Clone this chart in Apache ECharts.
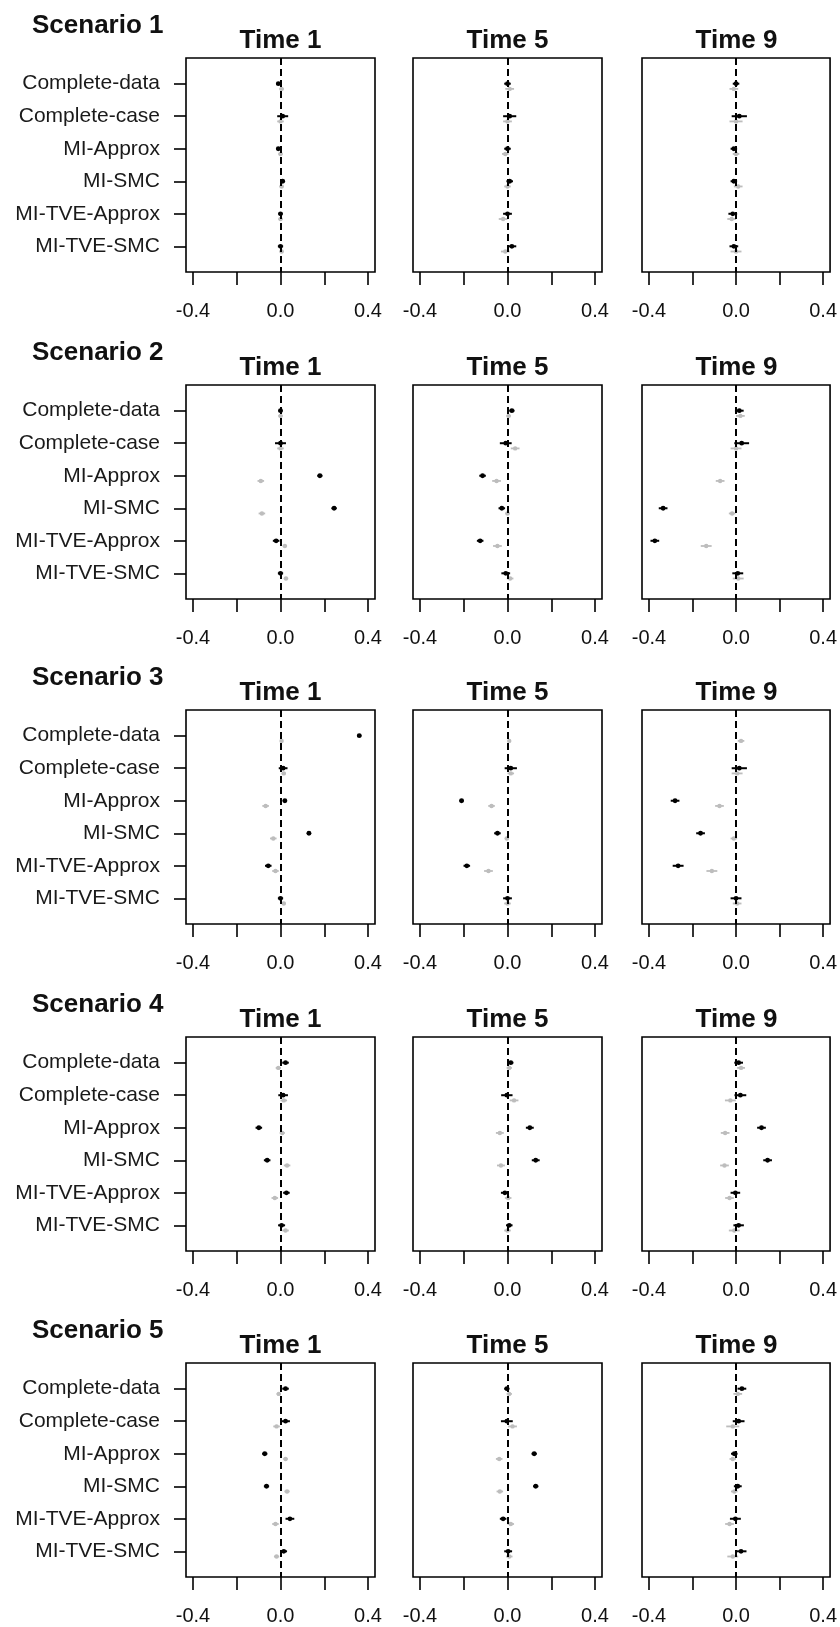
<!DOCTYPE html>
<html><head><meta charset="utf-8">
<script src="https://cdn.jsdelivr.net/npm/echarts@6/dist/echarts.min.js"></script>
<style>html,body{margin:0;padding:0;background:#fff}#chart{width:840px;height:1627px}</style>
</head><body><div id="chart"></div>
<script>
// ---------- data ----------
const methods = ['Complete-data','Complete-case','MI-Approx','MI-SMC','MI-TVE-Approx','MI-TVE-SMC'];
const times = ['Time 1','Time 5','Time 9'];
const scenarios = ['Scenario 1','Scenario 2','Scenario 3','Scenario 4','Scenario 5'];
const xTickValues = [-0.4,-0.2,0,0.2,0.4];
const xLabelValues = [-0.4,0,0.4];
const yTickValues = [1,2,3,4,5,6];

// estimates (rows: Time 1, Time 5, Time 9; columns: methods) and CI half-widths
const s1BlackEst = [[-0.01,0.01,-0.01,0.01,0.0,0.0],[0.0,0.01,0.0,0.01,0.0,0.02],[0.0,0.015,-0.01,-0.01,-0.015,-0.01]];
const s1BlackCI  = [[0.01,0.025,0.01,0.01,0.01,0.012],[0.015,0.03,0.015,0.015,0.02,0.02],[0.015,0.035,0.015,0.015,0.02,0.02]];
const s1GreyEst  = [[0.005,0.0,0.0,0.005,0.0,0.005],[0.01,0.0,-0.01,0.0,-0.02,-0.01],[-0.01,0.0,0.0,0.01,-0.02,0.0]];
const s1GreyCI   = [[0.01,0.015,0.01,0.01,0.01,0.01],[0.02,0.02,0.015,0.015,0.02,0.02],[0.02,0.03,0.015,0.02,0.02,0.025]];

const s2BlackEst = [[0.0,0.0,0.18,0.245,-0.02,0.0],[0.02,-0.008,-0.114,-0.026,-0.125,-0.008],[0.015,0.026,null,-0.335,-0.373,0.008]];
const s2BlackCI  = [[0.01,0.025,0.012,0.012,0.015,0.012],[0.012,0.027,0.015,0.015,0.015,0.02],[0.02,0.034,0.02,0.02,0.02,0.025]];
const s2GreyEst  = [[0.0,0.0,-0.09,-0.085,0.02,0.025],[0.005,0.035,-0.05,0.0,-0.046,0.012],[0.02,0.0,-0.073,-0.018,-0.137,0.01]];
const s2GreyCI   = [[0.01,0.015,0.015,0.015,0.01,0.01],[0.01,0.02,0.02,0.01,0.02,0.015],[0.02,0.025,0.02,0.015,0.025,0.025]];

const s3BlackEst = [[0.36,0.012,0.02,0.13,-0.056,0.0],[null,0.015,-0.21,-0.046,-0.186,0.0],[null,0.015,-0.28,-0.163,-0.266,0.0]];
const s3BlackCI  = [[0.01,0.02,0.01,0.01,0.015,0.012],[0.01,0.028,0.01,0.015,0.015,0.02],[0.01,0.035,0.02,0.02,0.025,0.025]];
const s3GreyEst  = [[0.005,0.015,-0.068,-0.033,-0.023,0.015],[0.008,0.015,-0.073,-0.003,-0.087,0.0],[0.023,0.005,-0.076,-0.01,-0.111,0.005]];
const s3GreyCI   = [[0.005,0.01,0.015,0.015,0.015,0.01],[0.008,0.015,0.015,0.01,0.02,0.015],[0.015,0.025,0.02,0.015,0.025,0.02]];

const s4BlackEst = [[0.023,0.012,-0.099,-0.061,0.027,0.005],[0.015,-0.003,0.102,0.129,-0.012,0.008],[0.012,0.02,0.117,0.145,-0.003,0.012]];
const s4BlackCI  = [[0.015,0.022,0.015,0.015,0.015,0.016],[0.012,0.026,0.018,0.018,0.018,0.015],[0.02,0.027,0.02,0.02,0.022,0.024]];
const s4GreyEst  = [[-0.01,0.015,0.008,0.03,-0.026,0.023],[0.008,0.03,-0.035,-0.03,0.003,0.0],[0.023,-0.026,-0.05,-0.053,-0.03,-0.008]];
const s4GreyCI   = [[0.012,0.015,0.012,0.015,0.015,0.015],[0.012,0.02,0.018,0.018,0.015,0.015],[0.018,0.025,0.02,0.02,0.02,0.025]];

const s5BlackEst = [[0.023,0.023,-0.072,-0.064,0.043,0.015],[-0.003,-0.003,0.122,0.129,-0.02,0.003],[0.027,0.012,-0.008,0.008,-0.003,0.023]];
const s5BlackCI  = [[0.015,0.02,0.012,0.012,0.02,0.015],[0.012,0.027,0.012,0.012,0.015,0.018],[0.02,0.027,0.015,0.018,0.025,0.025]];
const s5GreyEst  = [[-0.008,-0.018,0.023,0.03,-0.023,-0.018],[0.008,0.023,-0.038,-0.035,0.015,0.008],[0.008,-0.015,-0.015,-0.008,-0.03,-0.015]];
const s5GreyCI   = [[0.01,0.015,0.01,0.012,0.015,0.012],[0.012,0.02,0.015,0.015,0.015,0.015],[0.02,0.03,0.015,0.015,0.02,0.025]];

const blackEst = [s1BlackEst,s2BlackEst,s3BlackEst,s4BlackEst,s5BlackEst];
const blackCI  = [s1BlackCI,s2BlackCI,s3BlackCI,s4BlackCI,s5BlackCI];
const greyEst  = [s1GreyEst,s2GreyEst,s3GreyEst,s4GreyEst,s5GreyEst];
const greyCI   = [s1GreyCI,s2GreyCI,s3GreyCI,s4GreyCI,s5GreyCI];

// ---------- layout ----------
const FONT = '"Liberation Sans", Arial, sans-serif';
const colLeft = [186, 413, 642], boxW = 189;
const rowTop = [58, 385, 710, 1037, 1363], boxH = 214;
const greyOffset = 0.16;

function ciData(est, ci, off) {
  const out = [];
  est.forEach((v, i) => {
    if (v === null || v === undefined) return;
    out.push([v, v - ci[i], v + ci[i], i + 1 + off]);
  });
  return out;
}
function renderCI(color, lw, r) {
  return function (params, api) {
    const y = api.value(3);
    const p = api.coord([api.value(0), y]);
    const a = api.coord([api.value(1), y]);
    const b = api.coord([api.value(2), y]);
    return {type: 'group', children: [
      {type: 'line', shape: {x1: a[0], y1: a[1], x2: b[0], y2: b[1]}, style: {stroke: color, lineWidth: lw}},
      {type: 'circle', shape: {cx: p[0], cy: p[1], r: r}, style: {fill: color}}
    ]};
  };
}

const grid = [], xAxis = [], yAxis = [], series = [], graphic = [];
scenarios.forEach((sc, r) => {
  graphic.push({type: 'text', x: 32, y: rowTop[r] - 32, silent: true,
    style: {text: sc, font: 'bold 26px ' + FONT, fill: '#111', textAlign: 'left', textVerticalAlign: 'middle'}});
  times.forEach((t, c) => {
    const gi = grid.length;
    grid.push({left: colLeft[c], top: rowTop[r], width: boxW, height: boxH, show: true,
      borderColor: '#000', borderWidth: 1.6, backgroundColor: 'transparent', containLabel: false});
    xAxis.push({type: 'value', gridIndex: gi, position: 'bottom', min: -0.432, max: 0.432,
      axisLine: {show: false, onZero: false}, splitLine: {show: false},
      axisTick: {show: true, customValues: xTickValues, length: 13, lineStyle: {color: '#000', width: 1.6}},
      axisLabel: {show: true, customValues: xLabelValues, formatter: v => v.toFixed(1), margin: 29,
        fontSize: 20, color: '#111', fontFamily: FONT}});
    yAxis.push({type: 'value', gridIndex: gi, position: 'left', inverse: true, min: 0.21, max: 6.79,
      axisLine: {show: false, onZero: false}, splitLine: {show: false},
      axisTick: {show: c === 0, customValues: yTickValues, length: 12, lineStyle: {color: '#000', width: 1.6}},
      axisLabel: {show: c === 0, customValues: yTickValues, formatter: v => methods[Math.round(v) - 1] || '',
        margin: 26, fontSize: 21, color: '#1a1a1a', fontFamily: FONT}});
    graphic.push({type: 'text', x: colLeft[c] + boxW / 2, y: rowTop[r] - 17, silent: true,
      style: {text: t, font: 'bold 26px ' + FONT, fill: '#111', textAlign: 'center', textVerticalAlign: 'middle'}});
    series.push({type: 'line', xAxisIndex: gi, yAxisIndex: gi, data: [], silent: true, z: 1,
      markLine: {silent: true, symbol: ['none', 'none'], label: {show: false}, animation: false,
        lineStyle: {color: '#000', type: [7, 4], width: 2}, data: [{xAxis: 0}]}});
    series.push({type: 'custom', xAxisIndex: gi, yAxisIndex: gi, silent: true, z: 2, clip: true,
      renderItem: renderCI('#bdbdbd', 1.8, 2.2), data: ciData(greyEst[r][c], greyCI[r][c], greyOffset)});
    series.push({type: 'custom', xAxisIndex: gi, yAxisIndex: gi, silent: true, z: 3, clip: true,
      renderItem: renderCI('#000', 2, 2.4), data: ciData(blackEst[r][c], blackCI[r][c], 0)});
  });
});

const chart = echarts.init(document.getElementById('chart'), null, {renderer: 'canvas'});
chart.setOption({animation: false, backgroundColor: '#fff', grid, xAxis, yAxis, series, graphic});
</script>
</body></html>
